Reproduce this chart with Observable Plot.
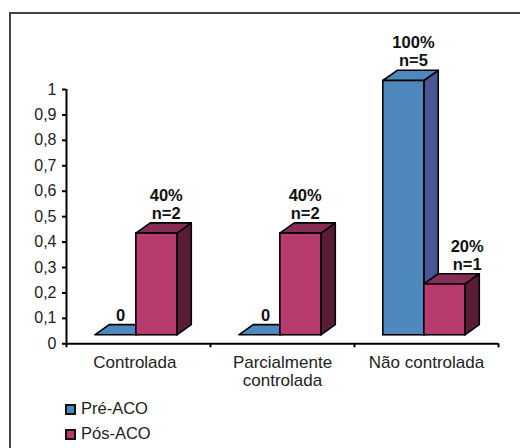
<!DOCTYPE html>
<html><head><meta charset="utf-8">
<script src="https://cdn.jsdelivr.net/npm/d3@7"></script>
<script src="https://cdn.jsdelivr.net/npm/@observablehq/plot@0.6"></script>
<style>
html,body{margin:0;padding:0;background:#fff;}
#wrap{position:relative;width:520px;height:448px;overflow:hidden;}
#frame{position:absolute;left:9px;top:12px;width:530px;height:470px;border:2px solid #444;box-sizing:border-box;}
#chart{position:absolute;left:0;top:0;}
#legend{position:absolute;left:65px;top:396px;font:16.5px "Liberation Sans",Arial,sans-serif;color:#222;}
#legend div{height:25px;line-height:25px;display:flex;align-items:center;}
#legend i{display:inline-block;width:7px;height:7px;border:2px solid #111;margin-right:5px;margin-top:2px;}
</style></head><body>
<div id="wrap"><div id="frame"></div><div id="chart"></div><div id="legend"></div></div>
<script>
const categories = ["Controlada", "Parcialmente\ncontrolada", "Não controlada"];
const preACO = [0, 0, 1];
const posACO = [0.4, 0.4, 0.2];
const preLabels = ["0", "0", "100%\nn=5"];
const posLabels = ["40%\nn=2", "40%\nn=2", "20%\nn=1"];
const tickValues = [0, 0.1, 0.2, 0.3, 0.4, 0.5, 0.6, 0.7, 0.8, 0.9, 1];
const seriesNames = ["Pré-ACO", "Pós-ACO"];
const colors = {front: ["#4f88bd", "#b83b70"], side: ["#485597", "#5c1b35"], top: ["#4f88bd", "#862d58"]};

// layout, in axis units
const barLeft = 0.2, barW = 0.285, depthX = 0.1, baseY = 0.0335, depthY = 0.04;
const categoryX = [0.475, 1.5, 2.5];
const preNudge = [-0.017, -0.01, 0.017];
const posNudge = [0.015, -0.02, 0.105];

const faces = {side: [], top: [], front: []};
function addBar(cat, series, value) {
  const x0 = cat + barLeft + series * barW, x1 = x0 + barW;
  const y0 = baseY, y1 = baseY + value, id = `${cat}-${series}`;
  faces.side.push({id, series, x: x1, y1: y0, y2: y1}, {id, series, x: x1 + depthX, y1: y0 + depthY, y2: y1 + depthY});
  faces.top.push({id, series, y: y1, x1: x0, x2: x1}, {id, series, y: y1 + depthY, x1: x0 + depthX, x2: x1 + depthX});
  faces.front.push({series, x1: x0, x2: x1, y1: y0, y2: y1});
}
categories.forEach((c, i) => { addBar(i, 0, preACO[i]); addBar(i, 1, posACO[i]); });

function barMarks(ser) {
  const s = d => d.series === ser;
  const side = faces.side.filter(s), top = faces.top.filter(s), front = faces.front.filter(s);
  return [
    Plot.areaY(side, {x: "x", y1: "y1", y2: "y2", z: "id", fill: colors.side[ser], stroke: "#000", strokeWidth: 1.6, curve: "linear"}),
    Plot.areaX(top, {y: "y", x1: "x1", x2: "x2", z: "id", fill: colors.top[ser], stroke: "#000", strokeWidth: 1.6, curve: "linear"}),
    Plot.rect(front.filter(d => d.y2 > d.y1), {x1: "x1", x2: "x2", y1: "y1", y2: "y2", fill: colors.front[ser], stroke: "#000", strokeWidth: 1.6})
  ];
}
const labelData = [];
categories.forEach((c, i) => {
  const x0 = i + barLeft;
  labelData.push({x: x0 + barW / 2 + depthX / 2 + preNudge[i], y: preACO[i] + baseY + depthY, t: preLabels[i]});
  labelData.push({x: x0 + barW * 1.5 + depthX / 2 + posNudge[i], y: posACO[i] + baseY + depthY, t: posLabels[i]});
});

const plot = Plot.plot({
  width: 520, height: 395,
  marginLeft: 66, marginRight: 22, marginTop: 89, marginBottom: 51.7,
  style: {background: "transparent", fontFamily: '"Liberation Sans",Arial,sans-serif', overflow: "visible"},
  x: {type: "linear", domain: [0, 3], axis: null},
  y: {type: "linear", domain: [0, 1], axis: null},
  marks: [
    ...barMarks(0),
    ...barMarks(1),
    Plot.ruleX([0], {y1: 0, y2: 1, stroke: "#000", strokeWidth: 2}),
    Plot.ruleY([0], {stroke: "#000", strokeWidth: 2}),
    Plot.axisY({ticks: tickValues, tickFormat: d => String(d).replace(".", ","), tickSize: 4, tickPadding: 6, fontSize: 16, stroke: "#000", strokeWidth: 2, fill: "#222", marginLeft: 66}),
    Plot.axisX({ticks: [0, 1, 2, 3], tickFormat: () => "", tickSize: 4, stroke: "#000", strokeWidth: 2, anchor: "bottom"}),
    Plot.text(categories, {x: (d, i) => categoryX[i], y: 0, text: d => d, dy: 11, lineAnchor: "top", fontSize: 17, fill: "#222", lineHeight: 1.08}),
    Plot.text(labelData, {x: "x", y: "y", text: "t", dy: -4.5, lineAnchor: "bottom", fontSize: 16.5, fontWeight: "bold", fill: "#111", lineHeight: 1.1})
  ]
});
document.getElementById("chart").appendChild(plot);
const lg = document.getElementById("legend");
seriesNames.forEach((n, i) => {
  const r = document.createElement("div");
  r.innerHTML = `<i style="background:${colors.front[i]}"></i>${n}`;
  lg.appendChild(r);
});
</script></body></html>
